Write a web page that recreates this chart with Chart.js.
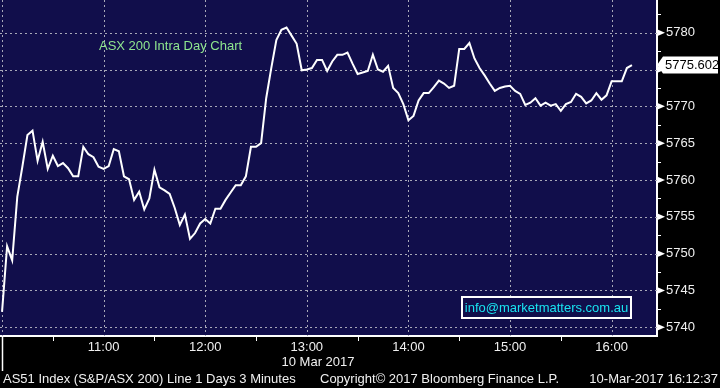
<!DOCTYPE html>
<html>
<head>
<meta charset="utf-8">
<script src="https://cdn.jsdelivr.net/npm/chart.js@4.4.0/dist/chart.umd.min.js"></script>
<style>
  html, body { margin: 0; padding: 0; background: #000; }
  #wrap { width: 720px; height: 388px; }
</style>
</head>
<body>
<div id="wrap"><canvas id="chart" width="720" height="388"></canvas></div>
<script>
// AS51 intraday, 3 minute bars from 10:00
const stepMinutes = 3;
const prices = [
  5742.1, 5751.0, 5749.1, 5757.7, 5761.8, 5766.1, 5766.7, 5762.6, 5765.2, 5761.5,
  5763.3, 5761.9, 5762.3, 5761.6, 5760.5, 5760.5, 5764.5, 5763.5, 5763.1, 5761.8,
  5761.5, 5761.9, 5764.2, 5763.9, 5760.5, 5760.1, 5757.3, 5758.4, 5756.0, 5757.5,
  5761.4, 5759.0, 5758.6, 5758.1, 5756.2, 5753.9, 5755.3, 5752.0, 5752.8, 5754.1,
  5754.7, 5754.1, 5756.1, 5756.1, 5757.3, 5758.3, 5759.3, 5759.3, 5760.5, 5764.5,
  5764.5, 5765.0, 5771.1, 5775.2, 5779.0, 5780.4, 5780.7, 5779.6, 5778.5, 5774.9,
  5775.0, 5775.2, 5776.3, 5776.3, 5774.8, 5776.1, 5777.0, 5777.0, 5777.3, 5775.8,
  5774.4, 5774.6, 5774.8, 5777.0, 5775.0, 5774.7, 5775.5, 5772.5, 5771.8, 5770.3,
  5768.1, 5768.7, 5770.8, 5771.8, 5771.8, 5772.6, 5773.5, 5773.1, 5772.5, 5772.8,
  5777.8, 5777.8, 5778.6, 5776.5, 5775.2, 5774.2, 5773.1, 5772.1, 5772.5, 5772.7,
  5772.8, 5772.1, 5771.7, 5770.2, 5770.5, 5771.1, 5770.1, 5770.5, 5770.1, 5770.3,
  5769.4, 5770.3, 5770.6, 5771.7, 5771.3, 5770.4, 5770.8, 5771.8, 5770.9, 5771.5,
  5773.4, 5773.4, 5773.4, 5775.2, 5775.602
];
const lastPrice = 5775.602;
const minutes = prices.map((p, i) => i * stepMinutes);

const priceTicks = [5740, 5745, 5750, 5755, 5760, 5765, 5770, 5775, 5780];
const minorPriceTicks = [5742.5, 5747.5, 5752.5, 5757.5, 5762.5, 5767.5, 5772.5, 5777.5, 5782.5];
const hourTicks = [60, 120, 180, 240, 300, 360];
const hourLabels = ['11:00', '12:00', '13:00', '14:00', '15:00', '16:00'];
const gridHours = [0, 60, 120, 180, 240, 300, 360];
const halfHourTicks = [30, 90, 150, 210, 270, 330];

const FONT = 'Liberation Sans, Arial, sans-serif';
Chart.defaults.font.family = FONT;

const decor = {
  id: 'decor',
  beforeDraw(chart) {
    const { ctx, chartArea: a } = chart;
    ctx.save();
    ctx.fillStyle = '#000';
    ctx.fillRect(0, 0, chart.width, chart.height);
    ctx.fillStyle = '#110e4b';
    ctx.fillRect(a.left, a.top, a.right - a.left, a.bottom - a.top);
    ctx.restore();
  },
  beforeDatasetsDraw(chart) {
    const { ctx, chartArea: a, scales: { x, y } } = chart;
    ctx.save();
    ctx.strokeStyle = '#a8a8b8';
    ctx.lineWidth = 1;
    ctx.setLineDash([2, 3]);
    priceTicks.forEach(v => {
      const py = Math.round(y.getPixelForValue(v)) + 0.5;
      ctx.beginPath(); ctx.moveTo(a.left, py); ctx.lineTo(a.right, py); ctx.stroke();
    });
    gridHours.forEach(m => {
      const px = Math.round(x.getPixelForValue(m)) + 0.5;
      ctx.beginPath(); ctx.moveTo(px, a.top); ctx.lineTo(px, a.bottom); ctx.stroke();
    });
    ctx.restore();
  },
  afterDraw(chart) {
    const { ctx, chartArea: a, scales: { x, y } } = chart;
    ctx.save();
    ctx.fillStyle = '#fff';
    ctx.strokeStyle = '#fff';
    ctx.lineWidth = 1;
    // right axis markers
    priceTicks.forEach(v => {
      const py = y.getPixelForValue(v);
      ctx.beginPath();
      ctx.moveTo(a.right, py - 3.5); ctx.lineTo(a.right + 8, py); ctx.lineTo(a.right, py + 3.5);
      ctx.closePath(); ctx.fill();
    });
    minorPriceTicks.forEach(v => {
      const py = Math.round(y.getPixelForValue(v)) + 0.5;
      ctx.beginPath(); ctx.moveTo(a.right, py); ctx.lineTo(a.right + 4, py); ctx.stroke();
    });
    // bottom axis ticks
    halfHourTicks.forEach(m => {
      const px = Math.round(x.getPixelForValue(m)) + 0.5;
      ctx.beginPath(); ctx.moveTo(px, a.bottom); ctx.lineTo(px, a.bottom + 5); ctx.stroke();
    });
    const dayX = Math.round(x.getPixelForValue(0)) + 0.5;
    ctx.lineWidth = 1.5;
    ctx.beginPath(); ctx.moveTo(dayX, a.bottom); ctx.lineTo(dayX, a.bottom + 35); ctx.stroke();

    // last price tag
    const ly = y.getPixelForValue(lastPrice);
    ctx.beginPath();
    ctx.moveTo(a.right, ly);
    ctx.lineTo(a.right + 6, ly - 8.5);
    ctx.lineTo(718, ly - 8.5);
    ctx.lineTo(718, ly + 8.5);
    ctx.lineTo(a.right + 6, ly + 8.5);
    ctx.closePath();
    ctx.fill();
    ctx.fillStyle = '#000';
    ctx.font = '13px ' + FONT;
    ctx.textBaseline = 'middle';
    ctx.textAlign = 'left';
    ctx.fillText(lastPrice.toFixed(3), a.right + 8, ly + 0.5);

    // title
    ctx.fillStyle = '#8fe68f';
    ctx.fillText('ASX 200 Intra Day Chart', 99, 46);

    // contact box
    ctx.fillStyle = '#110e4b';
    ctx.fillRect(462, 297, 169, 21);
    ctx.strokeStyle = '#fff';
    ctx.lineWidth = 2;
    ctx.strokeRect(462, 297, 169, 21);
    ctx.fillStyle = '#19e3f0';
    ctx.font = '13px ' + FONT;
    ctx.textAlign = 'center';
    ctx.fillText('info@marketmatters.com.au', 546.5, 308);

    // date + footer
    ctx.fillStyle = '#f0f0f0';
    ctx.font = '13px ' + FONT;
    ctx.fillText('10 Mar 2017', 318, 362);
    ctx.textAlign = 'left';
    ctx.fillText('AS51 Index (S&P/ASX 200) Line 1 Days 3 Minutes', 3, 379);
    ctx.fillText('Copyright\u00a9 2017 Bloomberg Finance L.P.', 320, 379);
    ctx.textAlign = 'right';
    ctx.fillText('10-Mar-2017 16:12:37', 718, 379);
    ctx.restore();
  }
};

new Chart(document.getElementById('chart'), {
  type: 'line',
  data: {
    datasets: [{
      data: minutes.map((m, i) => ({ x: m, y: prices[i] })),
      borderColor: '#ffffff',
      borderWidth: 2,
      pointRadius: 0,
      tension: 0,
      fill: false
    }]
  },
  options: {
    responsive: false,
    animation: false,
    events: [],
    layout: { padding: 0, autoPadding: false },
    plugins: { legend: { display: false }, tooltip: { enabled: false } },
    scales: {
      x: {
        type: 'linear',
        min: -1.2,
        max: 386.8,
        afterBuildTicks: s => { s.ticks = hourTicks.map(v => ({ value: v })); },
        afterFit: s => { s.height = 52; s.paddingLeft = 0; s.paddingRight = 0; },
        ticks: {
          autoSkip: false,
          maxRotation: 0,
          padding: 4,
          color: '#f0f0f0',
          font: { size: 13 },
          callback: v => hourLabels[hourTicks.indexOf(v)]
        },
        grid: { display: false, drawTicks: false },
        border: { display: true, color: '#ffffff', width: 2 }
      },
      y: {
        position: 'right',
        min: 5738.82,
        max: 5784.44,
        afterBuildTicks: s => { s.ticks = priceTicks.map(v => ({ value: v })); },
        afterFit: s => { s.width = 63; s.paddingTop = 0; s.paddingBottom = 0; },
        ticks: {
          autoSkip: false,
          padding: 9,
          color: '#f0f0f0',
          font: { size: 13 },
          callback: v => String(v)
        },
        grid: { display: false, drawTicks: false },
        border: { display: true, color: '#ffffff', width: 2 }
      }
    }
  },
  plugins: [decor]
});
</script>
</body>
</html>
